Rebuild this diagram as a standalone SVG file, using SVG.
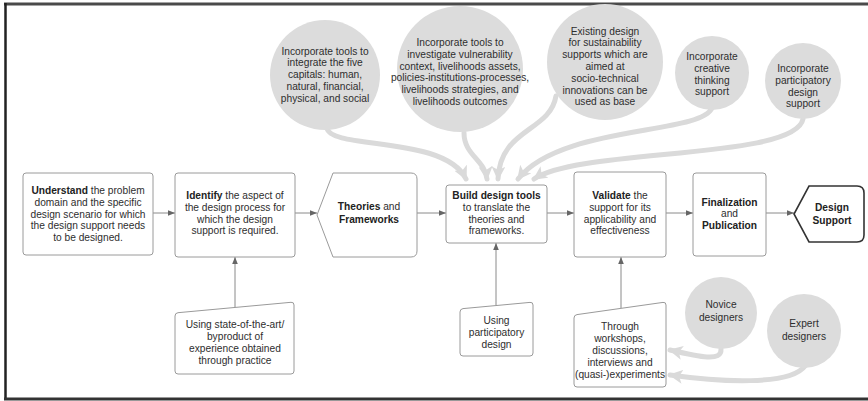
<svg xmlns="http://www.w3.org/2000/svg" width="868" height="401" viewBox="0 0 868 401">
  <style>
    text { font-family: "Liberation Sans", Arial, sans-serif; font-size: 10.2px; fill: #2e2e2e; text-anchor: middle; }
    .b { font-weight: bold; fill: #222; }
    .box { fill: #fff; stroke: #9a9a9a; stroke-width: 1; }
    .term { fill: #fff; stroke: #333; stroke-width: 1.6; }
    .bubble { fill: #dcdcdc; }
    .flow { fill: none; stroke: #8a8a8a; stroke-width: 1; }
    .feed { fill: none; stroke: #dadada; stroke-width: 5; stroke-linecap: round; }
  </style>
  <defs>
    <marker id="tip" viewBox="0 0 10 10" refX="10" refY="5" markerWidth="7" markerHeight="7" markerUnits="userSpaceOnUse" orient="auto">
      <path d="M0,1 L10,5 L0,9 Z" fill="#666"/>
    </marker>
    <marker id="fat" viewBox="0 0 10 10" refX="9" refY="5" markerWidth="14" markerHeight="14" markerUnits="userSpaceOnUse" orient="auto">
      <path d="M0,0 L10,5 L0,10 L2.5,5 Z" fill="#dadada"/>
    </marker>
  </defs>

  <rect width="868" height="401" fill="#fff"/>
  <!-- frame -->
  <g id="frame" fill="none">
    <line x1="4" y1="4" x2="868" y2="4" stroke="#4a4a4a" stroke-width="3"/>
    <line x1="5.5" y1="3" x2="5.5" y2="400" stroke="#222" stroke-width="2.5"/>
    <line x1="4" y1="399" x2="868" y2="399" stroke="#333" stroke-width="3"/>
  </g>

  <!-- connectors -->
  <g id="connectors">
    <path class="feed" d="M327,128 C330,150 445,135 466,179" marker-end="url(#fat)"/>
    <path class="feed" d="M464,133 C464,155 485,160 487,179" marker-end="url(#fat)"/>
    <path class="feed" d="M556,96 C550,132 500,128 498,179" marker-end="url(#fat)"/>
    <path class="feed" d="M712,108 C700,135 560,125 518,179" marker-end="url(#fat)"/>
    <path class="feed" d="M803,119 C795,160 580,148 534,179" marker-end="url(#fat)"/>
    <path class="feed" d="M721,349 C722,362 700,357 670,350" marker-end="url(#fat)"/>
    <path class="feed" d="M805,366 C790,386 720,382 670,375" marker-end="url(#fat)"/>

    <line class="flow" x1="153" y1="213" x2="175" y2="213" marker-end="url(#tip)"/>
    <line class="flow" x1="295" y1="213" x2="317" y2="213" marker-end="url(#tip)"/>
    <line class="flow" x1="417" y1="213" x2="446" y2="213" marker-end="url(#tip)"/>
    <line class="flow" x1="547" y1="213" x2="574" y2="213" marker-end="url(#tip)"/>
    <line class="flow" x1="666" y1="213" x2="693" y2="213" marker-end="url(#tip)"/>
    <line class="flow" x1="766" y1="213" x2="794" y2="213" marker-end="url(#tip)"/>

    <line class="flow" x1="235" y1="307" x2="235" y2="257" marker-end="url(#tip)"/>
    <line class="flow" x1="496" y1="305" x2="496" y2="243" marker-end="url(#tip)"/>
    <line class="flow" x1="621" y1="308" x2="621" y2="257" marker-end="url(#tip)"/>
  </g>

  <!-- bubbles -->
  <g id="five-capitals">
    <circle class="bubble" cx="325" cy="75" r="55"/>
    <text x="325" y="54.5">Incorporate tools to</text>
    <text x="325" y="66.3">integrate the five</text>
    <text x="325" y="78.1">capitals: human,</text>
    <text x="325" y="89.9">natural, financial,</text>
    <text x="325" y="101.7">physical, and social</text>
  </g>
  <g id="livelihoods">
    <circle class="bubble" cx="460" cy="69" r="63"/>
    <text x="460" y="46">Incorporate tools to</text>
    <text x="460" y="57.8">investigate vulnerability</text>
    <text x="460" y="69.6">context, livelihoods assets,</text>
    <text x="460" y="81.4">policies-institutions-processes,</text>
    <text x="460" y="93.2">livelihoods strategies, and</text>
    <text x="460" y="105">livelihoods outcomes</text>
  </g>
  <g id="existing-design">
    <circle class="bubble" cx="605" cy="62" r="58"/>
    <text x="605" y="34.6">Existing design</text>
    <text x="605" y="46.4">for sustainability</text>
    <text x="605" y="58.2">supports which are</text>
    <text x="605" y="70">aimed at</text>
    <text x="605" y="81.8">socio-technical</text>
    <text x="605" y="93.6">innovations can be</text>
    <text x="605" y="105.4">used as base</text>
  </g>
  <g id="creative">
    <circle class="bubble" cx="712" cy="73" r="37"/>
    <text x="712" y="60">Incorporate</text>
    <text x="712" y="71.8">creative</text>
    <text x="712" y="83.6">thinking</text>
    <text x="712" y="95.4">support</text>
  </g>
  <g id="participatory-support">
    <circle class="bubble" cx="803" cy="81" r="38"/>
    <text x="803" y="72">Incorporate</text>
    <text x="803" y="83.8">participatory</text>
    <text x="803" y="95.6">design</text>
    <text x="803" y="107.4">support</text>
  </g>
  <g id="novice">
    <circle class="bubble" cx="721" cy="313" r="36"/>
    <text x="721" y="308">Novice</text>
    <text x="721" y="320.5">designers</text>
  </g>
  <g id="expert">
    <circle class="bubble" cx="804" cy="331" r="37"/>
    <text x="804" y="327">Expert</text>
    <text x="804" y="339.5">designers</text>
  </g>

  <!-- main flow -->
  <g id="understand">
    <rect class="box" x="23" y="173" width="130" height="82" rx="3"/>
    <text x="88" y="194"><tspan class="b">Understand</tspan> the problem</text>
    <text x="88" y="205.8">domain and the specific</text>
    <text x="88" y="217.6">design scenario for which</text>
    <text x="88" y="229.4">the design support needs</text>
    <text x="88" y="241.2">to be designed.</text>
  </g>
  <g id="identify">
    <rect class="box" x="175" y="173" width="120" height="84" rx="3"/>
    <text x="235" y="199"><tspan class="b">Identify</tspan> the aspect of</text>
    <text x="235" y="210.8">the design process for</text>
    <text x="235" y="222.6">which the design</text>
    <text x="235" y="234.4">support is required.</text>
  </g>
  <g id="theories">
    <path class="box" d="M333,173 L411,173 Q417,173 417,179 L417,251 Q417,257 411,257 L333,257 L317,215 Z"/>
    <text x="369" y="210"><tspan class="b">Theories</tspan> and</text>
    <text x="369" y="222.5" class="b">Frameworks</text>
  </g>
  <g id="build">
    <rect class="box" x="446" y="185" width="101" height="58" rx="3"/>
    <text x="496.5" y="199" class="b">Build design tools</text>
    <text x="496.5" y="210.8">to translate the</text>
    <text x="496.5" y="222.6">theories and</text>
    <text x="496.5" y="234.4">frameworks.</text>
  </g>
  <g id="validate">
    <rect class="box" x="574" y="172" width="92" height="85" rx="3"/>
    <text x="620" y="199"><tspan class="b">Validate</tspan> the</text>
    <text x="620" y="210.8">support for its</text>
    <text x="620" y="222.6">applicability and</text>
    <text x="620" y="234.4">effectiveness</text>
  </g>
  <g id="finalization">
    <rect class="box" x="693" y="173" width="73" height="83" rx="3"/>
    <text x="729.5" y="205.5" class="b">Finalization</text>
    <text x="729.5" y="217.3">and</text>
    <text x="729.5" y="229.1" class="b">Publication</text>
  </g>
  <g id="design-support">
    <path class="term" d="M809,186 L857,186 Q864,186 864,193 L864,235 Q864,242 857,242 L809,242 L794,214 Z"/>
    <text x="832" y="211" class="b">Design</text>
    <text x="832" y="223.5" class="b">Support</text>
  </g>

  <!-- inputs -->
  <g id="state-of-the-art">
    <path class="box" d="M178,312.7 L291,302.3 Q294,302 294,305 L294,371 Q294,374 291,374 L178,374 Q175,374 175,371 L175,316 Q175,313 178,312.7 Z"/>
    <text x="235" y="328">Using state-of-the-art/</text>
    <text x="235" y="340">byproduct of</text>
    <text x="235" y="352">experience obtained</text>
    <text x="235" y="364">through practice</text>
  </g>
  <g id="participatory-design">
    <path class="box" d="M463,308.6 L530,302.4 Q533,302 533,305 L533,353 Q533,356 530,356 L463,356 Q460,356 460,353 L460,312 Q460,309 463,308.6 Z"/>
    <text x="496.5" y="324">Using</text>
    <text x="496.5" y="336">participatory</text>
    <text x="496.5" y="348">design</text>
  </g>
  <g id="workshops">
    <path class="box" d="M577,314.6 L663,302.4 Q666,302 666,305 L666,384 Q666,387 663,387 L577,387 Q574,387 574,384 L574,318 Q574,315 577,314.6 Z"/>
    <text x="620" y="330">Through</text>
    <text x="620" y="342">workshops,</text>
    <text x="620" y="354">discussions,</text>
    <text x="620" y="366">interviews and</text>
    <text x="620" y="378">(quasi-)experiments</text>
  </g>
</svg>
